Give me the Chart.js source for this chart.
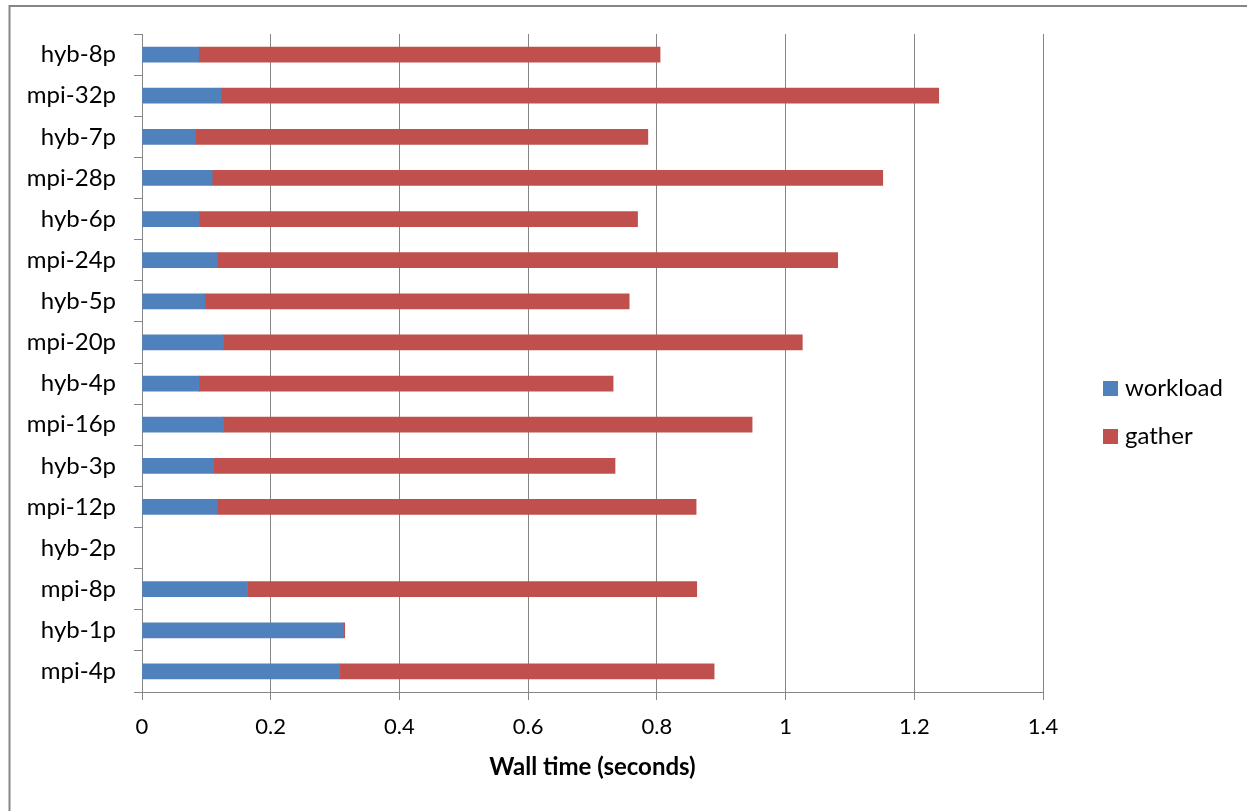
<!DOCTYPE html>
<html>
<head>
<meta charset="utf-8">
<script src="https://cdn.jsdelivr.net/npm/chart.js@4/dist/chart.umd.min.js"></script>
<style>
  html, body { margin: 0; padding: 0; background: #ffffff; }
  #wrap { width: 1247px; height: 811px; position: relative; }
  canvas { display: block; }
</style>
</head>
<body>
<div id="wrap"><canvas id="chart" width="1247" height="811"></canvas></div>
<script>
// Runs, listed top to bottom
const runs = [
  'hyb-8p', 'mpi-32p', 'hyb-7p', 'mpi-28p', 'hyb-6p', 'mpi-24p', 'hyb-5p', 'mpi-20p',
  'hyb-4p', 'mpi-16p', 'hyb-3p', 'mpi-12p', 'hyb-2p', 'mpi-8p', 'hyb-1p', 'mpi-4p'
];

// Time spent in the workload phase (seconds)
const workload = [
  0.088, 0.123, 0.083, 0.109, 0.089, 0.117, 0.098, 0.127,
  0.089, 0.127, 0.111, 0.117, null, 0.164, 0.313, 0.307
];

// Time spent in the gather phase (seconds)
const gather = [
  0.717, 1.115, 0.703, 1.042, 0.681, 0.964, 0.659, 0.899,
  0.643, 0.821, 0.624, 0.744, null, 0.698, 0.002, 0.582
];

const seriesNames = ['workload', 'gather'];
const seriesColors = ['#4F81BD', '#C0504D'];

const timeTicks = [0, 0.2, 0.4, 0.6, 0.8, 1, 1.2, 1.4];
const timeTickLabels = ['0', '0.2', '0.4', '0.6', '0.8', '1', '1.2', '1.4'];

const axisTitle = 'Wall time (seconds)';

const GRID = '#868686';
const FONT = 'Lato, "Open Sans", sans-serif';

// White page with the thin grey frame along the top and left edges
const framePlugin = {
  id: 'frame',
  beforeDraw(chart) {
    const ctx = chart.ctx;
    ctx.save();
    ctx.fillStyle = '#ffffff';
    ctx.fillRect(0, 0, chart.width, chart.height);
    ctx.strokeStyle = GRID;
    ctx.lineWidth = 2;
    ctx.beginPath();
    ctx.moveTo(9.5, chart.height + 5);
    ctx.lineTo(9.5, 6);
    ctx.lineTo(chart.width + 5, 6);
    ctx.stroke();
    ctx.restore();
  }
};

// Legend drawn to the right of the plot, one entry per dataset
const sideLegend = {
  id: 'sideLegend',
  afterDraw(chart) {
    const ctx = chart.ctx;
    const area = chart.chartArea;
    ctx.save();
    ctx.font = '24px ' + FONT;
    ctx.textBaseline = 'middle';
    ctx.textAlign = 'left';
    const x = area.right + 60;
    const y0 = 388;
    const step = 48;
    chart.data.datasets.forEach((ds, i) => {
      const y = y0 + i * step;
      ctx.fillStyle = ds.backgroundColor;
      ctx.fillRect(x, y - 7, 15, 15);
      ctx.fillStyle = '#000000';
      ctx.fillText(ds.label, x + 22, y);
    });
    ctx.restore();
  }
};

new Chart(document.getElementById('chart'), {
  type: 'bar',
  data: {
    labels: runs,
    datasets: [
      { label: seriesNames[0], data: workload, backgroundColor: seriesColors[0] },
      { label: seriesNames[1], data: gather, backgroundColor: seriesColors[1] }
    ]
  },
  options: {
    indexAxis: 'y',
    responsive: false,
    animation: false,
    devicePixelRatio: 1,
    layout: { padding: { left: 0, right: 204, top: 34, bottom: 0 } },
    datasets: { bar: { barThickness: 15, borderWidth: 0 } },
    plugins: {
      legend: { display: false },
      tooltip: { enabled: false }
    },
    scales: {
      x: {
        stacked: true,
        min: 0,
        max: 1.4,
        afterBuildTicks(scale) {
          scale.ticks = timeTicks.map(v => ({ value: v }));
        },
        afterFit(scale) { scale.height = 119; },
        ticks: {
          color: '#000000',
          font: { family: FONT, size: 22 },
          padding: 14,
          maxRotation: 0,
          callback: (v, i) => timeTickLabels[i]
        },
        grid: { color: GRID, lineWidth: 1, tickLength: 8, drawTicks: true },
        border: { color: GRID, width: 1 },
        title: {
          display: true,
          text: axisTitle,
          color: '#000000',
          font: { family: FONT, size: 24, weight: 'bold' },
          padding: { top: 0, bottom: 29 }
        }
      },
      y: {
        stacked: true,
        afterFit(scale) { scale.width = 142; },
        ticks: {
          color: '#000000',
          font: { family: FONT, size: 24 },
          padding: 18
        },
        grid: { offset: true, drawOnChartArea: false, color: GRID, tickLength: 8 },
        border: { color: GRID, width: 1 }
      }
    }
  },
  plugins: [framePlugin, sideLegend]
});
</script>
</body>
</html>
